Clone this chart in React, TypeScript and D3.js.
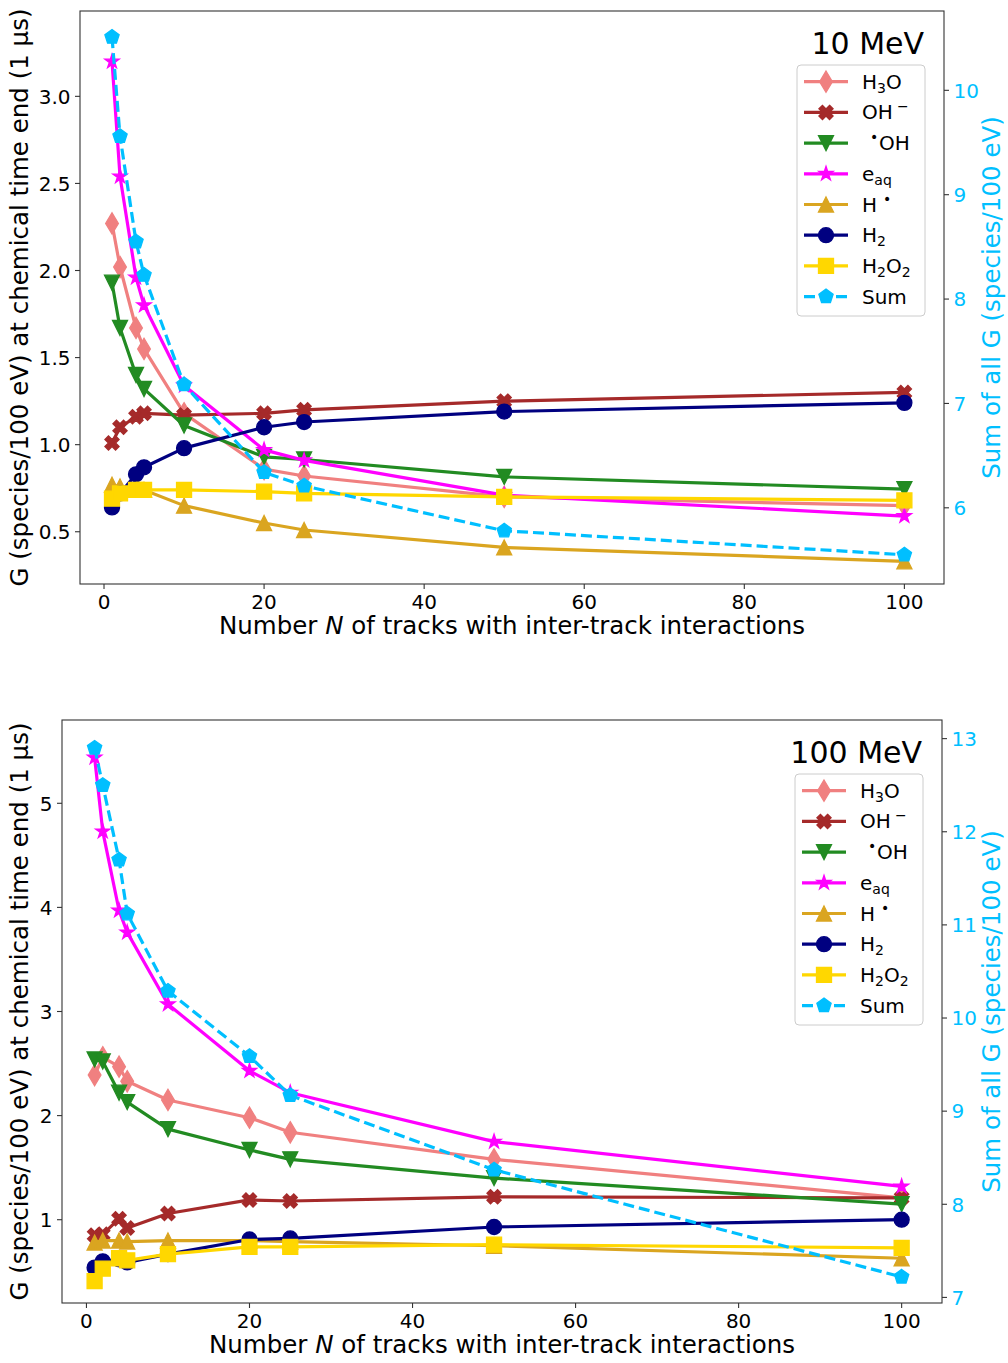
import * as d3 from "d3";

// number of tracks N (x values, shared by both panels)
const nTracks = [1, 2, 4, 5, 10, 20, 25, 50, 100];

// 10 MeV panel
const h3o10 = [2.27, 2.02, 1.67, 1.55, 1.18, 0.86, 0.82, 0.7, 0.65];
const ohMinus10 = [1.01, 1.1, 1.16, 1.18, 1.17, 1.18, 1.2, 1.25, 1.3];
const ohRad10 = [1.93, 1.67, 1.4, 1.32, 1.11, 0.93, 0.915, 0.815, 0.745];
const eaq10 = [3.2, 2.54, 1.96, 1.8, 1.34, 0.97, 0.91, 0.71, 0.59];
const hRad10 = [0.77, 0.76, 0.75, 0.74, 0.65, 0.55, 0.51, 0.41, 0.33];
const h2_10 = [0.64, 0.72, 0.83, 0.87, 0.98, 1.1, 1.13, 1.19, 1.24];
const h2o2_10 = [0.69, 0.72, 0.74, 0.74, 0.74, 0.73, 0.72, 0.7, 0.68];
const sum10 = [10.51, 9.56, 8.55, 8.23, 7.18, 6.34, 6.21, 5.78, 5.55];

// 100 MeV panel
const h3o100 = [2.39, 2.56, 2.47, 2.33, 2.15, 1.98, 1.84, 1.58, 1.21];
const ohMinus100 = [0.85, 0.86, 1.01, 0.92, 1.06, 1.19, 1.18, 1.22, 1.21];
const ohRad100 = [2.54, 2.52, 2.22, 2.13, 1.87, 1.67, 1.58, 1.4, 1.15];
const eaq100 = [5.44, 4.73, 3.97, 3.76, 3.07, 2.43, 2.22, 1.75, 1.32];
const hRad100 = [0.78, 0.8, 0.8, 0.79, 0.8, 0.8, 0.79, 0.75, 0.63];
const h2_100 = [0.54, 0.6, 0.62, 0.59, 0.67, 0.81, 0.82, 0.93, 1.0];
const h2o2_100 = [0.41, 0.53, 0.63, 0.61, 0.67, 0.74, 0.74, 0.76, 0.73];
const sum100 = [12.9, 12.5, 11.7, 11.12, 10.29, 9.59, 9.17, 8.37, 7.22];

// axes
const xDomain = [-3, 104.95];
const xTicks = [0, 20, 40, 60, 80, 100];
const leftDomain10 = [0.2, 3.49];
const rightDomain10 = [5.27, 10.76];
const leftTicks10 = [0.5, 1.0, 1.5, 2.0, 2.5, 3.0];
const rightTicks10 = [6, 7, 8, 9, 10];
const leftDomain100 = [0.2, 5.8];
const rightDomain100 = [6.94, 13.2];
const leftTicks100 = [1, 2, 3, 4, 5];
const rightTicks100 = [7, 8, 9, 10, 11, 12, 13];

const FONT = "DejaVu Sans, sans-serif";
const SKY = "#00BFFF";
const LW = 3.2;
const MS = 15;

const species = [
  { key: "h3o", color: "#F08080", marker: "thin_diamond" },
  { key: "ohMinus", color: "#A52A2A", marker: "x_filled" },
  { key: "ohRad", color: "#228B22", marker: "tri_down" },
  { key: "eaq", color: "#FF00FF", marker: "star" },
  { key: "hRad", color: "#DAA520", marker: "tri_up" },
  { key: "h2", color: "#000080", marker: "circle" },
  { key: "h2o2", color: "#FFD700", marker: "square" },
];

function polygon(pts: [number, number][]) {
  return "M" + pts.map((p) => `${p[0].toFixed(2)},${p[1].toFixed(2)}`).join("L") + "Z";
}

function markerPath(kind: string, s: number): string {
  const h = s / 2;
  switch (kind) {
    case "circle":
      return `M${h},0A${h},${h},0,1,1,${-h},0A${h},${h},0,1,1,${h},0Z`;
    case "square":
      return `M${-h},${-h}H${h}V${h}H${-h}Z`;
    case "thin_diamond": {
      const a = s * 0.7071;
      const w = a * 0.6;
      return polygon([[0, -a], [w, 0], [0, a], [-w, 0]]);
    }
    case "tri_up":
      return polygon([[0, -h], [h, h], [-h, h]]);
    case "tri_down":
      return polygon([[0, h], [h, -h], [-h, -h]]);
    case "star": {
      const pts: [number, number][] = [];
      for (let i = 0; i < 10; i++) {
        const r = i % 2 === 0 ? h : h * 0.381966;
        const t = (i * Math.PI) / 5;
        pts.push([r * Math.sin(t), -r * Math.cos(t)]);
      }
      return polygon(pts);
    }
    case "pentagon": {
      const pts: [number, number][] = [];
      for (let i = 0; i < 5; i++) {
        const t = (i * 2 * Math.PI) / 5;
        pts.push([h * Math.sin(t), -h * Math.cos(t)]);
      }
      return polygon(pts);
    }
    case "x_filled": {
      const base = [
        [-1, -3], [1, -3], [1, -1], [3, -1], [3, 1], [1, 1],
        [1, 3], [-1, 3], [-1, 1], [-3, 1], [-3, -1], [-1, -1],
      ];
      const c = Math.SQRT1_2;
      return polygon(
        base.map(([px, py]) => {
          const x = (px * s) / 6;
          const y = (py * s) / 6;
          return [x * c - y * c, x * c + y * c] as [number, number];
        })
      );
    }
  }
  return "";
}

function LegendLabel({ k, x, y }: { k: string; x: number; y: number }) {
  const small = 14;
  switch (k) {
    case "h3o":
      return (
        <text x={x} y={y}>
          H<tspan dy={4} fontSize={small}>3</tspan>
          <tspan dy={-4}>O</tspan>
        </text>
      );
    case "ohMinus":
      return (
        <text x={x} y={y}>
          OH<tspan x={x + 35} dy={-8} fontSize={small}>−</tspan>
        </text>
      );
    case "ohRad":
      return (
        <text x={x} y={y}>
          <tspan x={x + 8} dy={-8} fontSize={small}>•</tspan>
          <tspan x={x + 17} dy={8}>OH</tspan>
        </text>
      );
    case "eaq":
      return (
        <text x={x} y={y}>
          e<tspan dy={4} fontSize={small}>aq</tspan>
        </text>
      );
    case "hRad":
      return (
        <text x={x} y={y}>
          H<tspan x={x + 21} dy={-8} fontSize={small}>•</tspan>
        </text>
      );
    case "h2":
      return (
        <text x={x} y={y}>
          H<tspan dy={4} fontSize={small}>2</tspan>
        </text>
      );
    case "h2o2":
      return (
        <text x={x} y={y}>
          H<tspan dy={4} fontSize={small}>2</tspan>
          <tspan dy={-4}>O</tspan>
          <tspan dy={4} fontSize={small}>2</tspan>
        </text>
      );
    default:
      return (
        <text x={x} y={y}>
          Sum
        </text>
      );
  }
}

type PanelProps = {
  frame: { x0: number; x1: number; y0: number; y1: number };
  leftDomain: number[];
  rightDomain: number[];
  leftTicks: number[];
  rightTicks: number[];
  leftFmt: (v: number) => string;
  values: Record<string, number[]>;
  sum: number[];
  title: string;
  yLabelX: number;
};

function Panel(p: PanelProps) {
  const { x0, x1, y0, y1 } = p.frame;
  const x = d3.scaleLinear().domain(xDomain).range([x0, x1]);
  const yL = d3.scaleLinear().domain(p.leftDomain).range([y1, y0]);
  const yR = d3.scaleLinear().domain(p.rightDomain).range([y1, y0]);
  const lineL = d3
    .line<number>()
    .x((_, i) => x(nTracks[i]))
    .y((d) => yL(d));
  const lineR = d3
    .line<number>()
    .x((_, i) => x(nTracks[i]))
    .y((d) => yR(d));
  const midY = (y0 + y1) / 2;

  const legW = 128;
  const legX = x1 - 19 - legW;
  const legY = y0 + 54;
  const rowH = 30.7;
  const legendRows = [...species, { key: "sum", color: SKY, marker: "pentagon" }];

  return (
    <g fontFamily={FONT}>
      {/* species on the left axis */}
      {species.map((s) => {
        const vals = p.values[s.key];
        const mp = markerPath(s.marker, MS);
        return (
          <g key={s.key}>
            <path d={lineL(vals) ?? ""} fill="none" stroke={s.color} strokeWidth={LW} strokeLinejoin="round" />
            {vals.map((v, i) => (
              <path
                key={i}
                d={mp}
                transform={`translate(${x(nTracks[i])},${yL(v)})`}
                fill={s.color}
                stroke={s.color}
                strokeWidth={1.3}
              />
            ))}
          </g>
        );
      })}
      {/* sum on the right axis */}
      <g>
        <path d={lineR(p.sum) ?? ""} fill="none" stroke={SKY} strokeWidth={LW} strokeDasharray="11,5" />
        {p.sum.map((v, i) => (
          <path
            key={i}
            d={markerPath("pentagon", MS)}
            transform={`translate(${x(nTracks[i])},${yR(v)})`}
            fill={SKY}
            stroke={SKY}
            strokeWidth={1.3}
          />
        ))}
      </g>

      {/* frame */}
      <rect x={x0} y={y0} width={x1 - x0} height={y1 - y0} fill="none" stroke="#333" strokeWidth={1.1} />

      {/* x axis */}
      {xTicks.map((t) => (
        <g key={t}>
          <line x1={x(t)} x2={x(t)} y1={y1} y2={y1 + 5} stroke="#333" strokeWidth={1.1} />
          <text x={x(t)} y={y1 + 24.5} textAnchor="middle" fontSize={20}>
            {t}
          </text>
        </g>
      ))}
      <text x={(x0 + x1) / 2} y={y1 + 50} textAnchor="middle" fontSize={24.5}>
        Number <tspan fontStyle="italic">N</tspan> of tracks with inter-track interactions
      </text>

      {/* left axis */}
      {p.leftTicks.map((t) => (
        <g key={t}>
          <line x1={x0 - 5} x2={x0} y1={yL(t)} y2={yL(t)} stroke="#333" strokeWidth={1.1} />
          <text x={x0 - 9.5} y={yL(t) + 7.3} textAnchor="end" fontSize={20}>
            {p.leftFmt(t)}
          </text>
        </g>
      ))}
      <text
        transform={`translate(${p.yLabelX},${midY}) rotate(-90)`}
        textAnchor="middle"
        fontSize={24.5}
      >
        G (species/100 eV) at chemical time end (1 µs)
      </text>

      {/* right axis */}
      {p.rightTicks.map((t) => (
        <g key={t}>
          <line x1={x1} x2={x1 + 5} y1={yR(t)} y2={yR(t)} stroke="#333" strokeWidth={1.1} />
          <text x={x1 + 9.5} y={yR(t) + 7.3} textAnchor="start" fontSize={20} fill={SKY}>
            {t}
          </text>
        </g>
      ))}
      <text
        transform={`translate(1000,${midY}) rotate(-90)`}
        textAnchor="middle"
        fontSize={24.5}
        fill={SKY}
      >
        Sum of all G (species/100 eV)
      </text>

      {/* title */}
      <text x={x1 - 20} y={y0 + 43} textAnchor="end" fontSize={30}>
        {p.title}
      </text>

      {/* legend */}
      <rect
        x={legX}
        y={legY}
        width={legW}
        height={251}
        rx={4}
        fill="white"
        fillOpacity={0.8}
        stroke="#cccccc"
        strokeWidth={1}
      />
      {legendRows.map((s, i) => {
        const cy = legY + 16.7 + i * rowH;
        return (
          <g key={s.key} fontSize={20}>
            <line
              x1={legX + 7}
              x2={legX + 51}
              y1={cy}
              y2={cy}
              stroke={s.color}
              strokeWidth={LW}
              strokeDasharray={s.key === "sum" ? "11,5" : undefined}
            />
            <path
              d={markerPath(s.marker, MS)}
              transform={`translate(${legX + 29},${cy})`}
              fill={s.color}
              stroke={s.color}
              strokeWidth={1.3}
            />
            <LegendLabel k={s.key} x={legX + 65} y={cy + 7} />
          </g>
        );
      })}
    </g>
  );
}

export default function App() {
  return (
    <svg
      width={1008}
      height={1363}
      style={{ position: "absolute", left: 0, top: 0, background: "white" }}
    >
      <rect width={1008} height={1363} fill="white" />
      <Panel
        frame={{ x0: 80, x1: 944, y0: 11, y1: 584 }}
        leftDomain={leftDomain10}
        rightDomain={rightDomain10}
        leftTicks={leftTicks10}
        rightTicks={rightTicks10}
        leftFmt={(v) => v.toFixed(1)}
        values={{
          h3o: h3o10,
          ohMinus: ohMinus10,
          ohRad: ohRad10,
          eaq: eaq10,
          hRad: hRad10,
          h2: h2_10,
          h2o2: h2o2_10,
        }}
        sum={sum10}
        title="10 MeV"
        yLabelX={28}
      />
      <Panel
        frame={{ x0: 62, x1: 942, y0: 720, y1: 1303 }}
        leftDomain={leftDomain100}
        rightDomain={rightDomain100}
        leftTicks={leftTicks100}
        rightTicks={rightTicks100}
        leftFmt={(v) => String(v)}
        values={{
          h3o: h3o100,
          ohMinus: ohMinus100,
          ohRad: ohRad100,
          eaq: eaq100,
          hRad: hRad100,
          h2: h2_100,
          h2o2: h2o2_100,
        }}
        sum={sum100}
        title="100 MeV"
        yLabelX={28}
      />
    </svg>
  );
}
